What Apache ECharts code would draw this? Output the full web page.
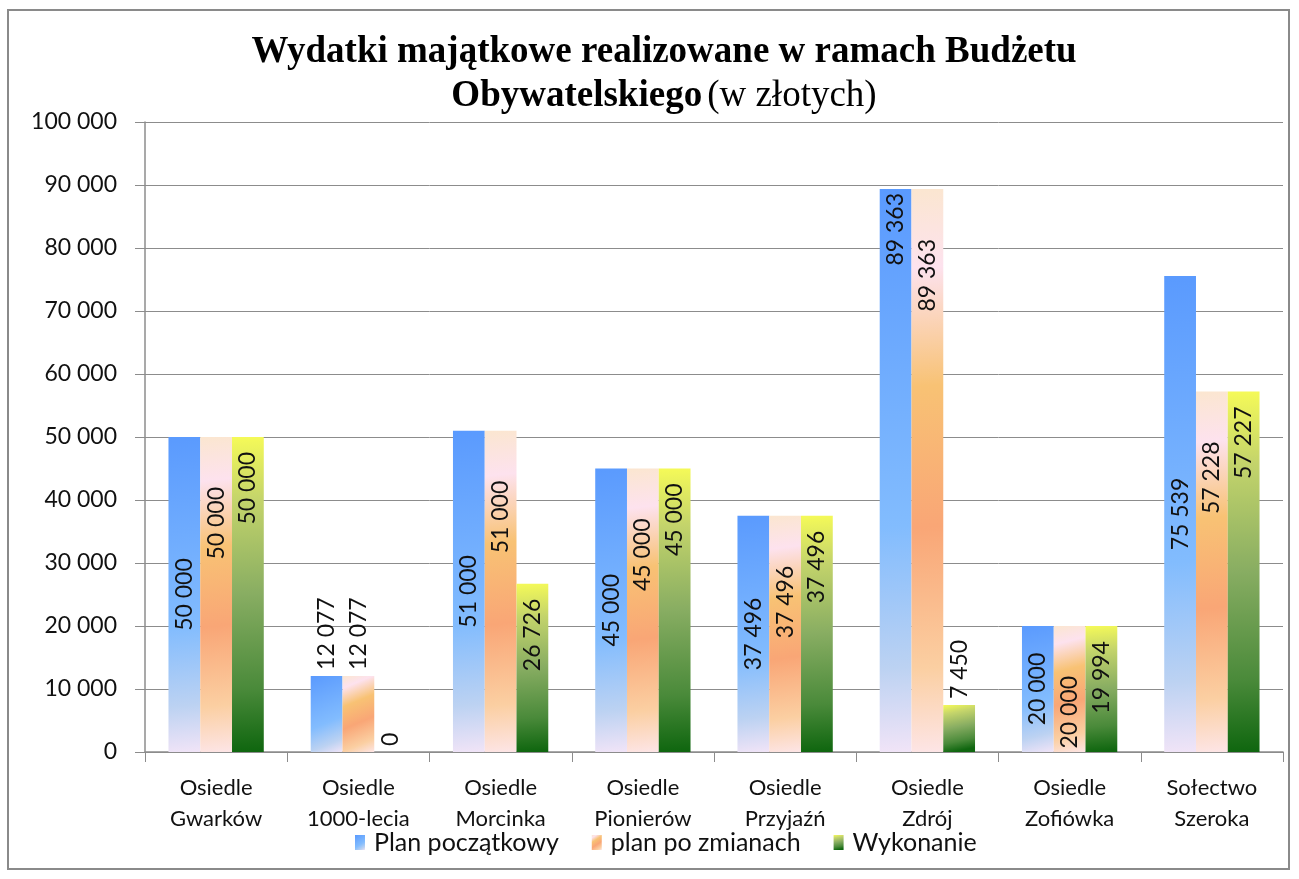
<!DOCTYPE html>
<html>
<head>
<meta charset="utf-8">
<script src="https://cdn.jsdelivr.net/npm/echarts@6/dist/echarts.min.js"></script>
<style>
  html, body { margin: 0; padding: 0; background: #fff; }
  #chart { position: absolute; left: 7px; top: 9px; width: 1283px; height: 861px;
           border: 2px solid #8a8a8a; box-sizing: border-box; }
</style>
</head>
<body>
<div id="chart"></div>
<script>
// dane wykresu
var categories = ['Osiedle\nGwarków', 'Osiedle\n1000-lecia', 'Osiedle\nMorcinka', 'Osiedle\nPionierów',
                  'Osiedle\nPrzyjaźń', 'Osiedle\nZdrój', 'Osiedle\nZofiówka', 'Sołectwo\nSzeroka'];
var planPoczatkowy = [50000, 12077, 51000, 45000, 37496, 89363, 20000, 75539];
var planPoZmianach = [50000, 12077, 51000, 45000, 37496, 89363, 20000, 57228];
var wykonanie      = [50000, 0, 26726, 45000, 37496, 7450, 19994, 57227];
var seriesNames = ['Plan początkowy', 'plan po zmianach', 'Wykonanie'];

var FONT = 'Lato';
var chart = echarts.init(document.getElementById('chart'));

function fmt(v) {
    return String(v).replace(/\B(?=(\d{3})+(?!\d))/g, ' ');
}

var grad = echarts.graphic.LinearGradient;
var blueFill = new grad(0, 0, 1, 1, [
    {offset: 0, color: '#5a9afe'},
    {offset: 0.6, color: '#82bcfe'},
    {offset: 0.85, color: '#bcd2f2'},
    {offset: 1, color: '#f1e4f7'}
]);
var orangeFill = new grad(0, 0, 1, 1, [
    {offset: 0, color: '#fbe6d0'},
    {offset: 0.14, color: '#fde2ee'},
    {offset: 0.35, color: '#f8c274'},
    {offset: 0.6, color: '#f9a676'},
    {offset: 0.85, color: '#fbcfa2'},
    {offset: 1, color: '#fde5e6'}
]);
var greenFill = new grad(0, 0, 0.3, 1, [
    {offset: 0, color: '#f5fa58'},
    {offset: 0.2, color: '#c4d46b'},
    {offset: 0.5, color: '#88ad62'},
    {offset: 0.8, color: '#4a8a3a'},
    {offset: 1, color: '#0f660f'}
]);

// etykiety: małe słupki nad słupkiem, bardzo wysokie przy górnej krawędzi
function labelled(values, pos, dist) {
    return values.map(function (v) {
        if (v < 15000) {
            return {value: v, label: {position: 'top', align: 'left', verticalAlign: 'middle', distance: 6}};
        }
        if (pos === 'inside' && v > 80000) {
            return {value: v, label: {position: 'insideTop', align: 'right', verticalAlign: 'middle', distance: 4}};
        }
        return {value: v, label: {position: pos, distance: dist}};
    });
}

var baseLabel = {
    show: true,
    rotate: 90,
    fontFamily: FONT,
    fontSize: 23,
    color: '#111',
    formatter: function (p) { return fmt(p.value); }
};

var option = {
    animation: false,
    title: {
        left: 650,
        textAlign: 'center',
        top: 14,
        text: '{b|Wydatki majątkowe realizowane w ramach Budżetu}\n{b|Obywatelskiego} {n|(w złotych)}',
        textStyle: {
            rich: {
                b: {fontFamily: 'Liberation Serif', fontWeight: 'bold', fontSize: 37, color: '#000', lineHeight: 44},
                n: {fontFamily: 'Liberation Serif', fontWeight: 'normal', fontSize: 37, color: '#000', lineHeight: 44}
            }
        }
    },
    legend: {
        bottom: 8,
        left: 341,
        icon: 'rect',
        itemWidth: 10,
        itemHeight: 15,
        itemGap: 33,
        textStyle: {fontFamily: FONT, fontSize: 25, color: '#111', padding: [0, 0, 0, 4]},
        data: seriesNames
    },
    grid: {left: 136, right: 5, top: 111, bottom: 116},
    xAxis: {
        type: 'category',
        data: categories,
        axisLine: {lineStyle: {color: '#8c8c8c', width: 1.5}},
        axisTick: {show: true, length: 10, lineStyle: {color: '#8c8c8c'}},
        axisLabel: {fontFamily: FONT, fontSize: 22, color: '#111', lineHeight: 31, margin: 20}
    },
    yAxis: {
        type: 'value',
        min: 0,
        max: 100000,
        interval: 10000,
        axisLine: {show: true, lineStyle: {color: '#8c8c8c', width: 1.5}},
        axisTick: {show: true, length: 10, lineStyle: {color: '#8c8c8c'}},
        splitLine: {lineStyle: {color: '#8c8c8c', width: 1}},
        axisLabel: {fontFamily: FONT, fontSize: 23, color: '#111', margin: 28, formatter: fmt}
    },
    series: [
        {
            name: seriesNames[0],
            type: 'bar',
            barGap: '0%',
            barCategoryGap: '33%',
            itemStyle: {color: blueFill},
            label: Object.assign({}, baseLabel, {position: 'inside'}),
            data: labelled(planPoczatkowy, 'inside', 5)
        },
        {
            name: seriesNames[1],
            type: 'bar',
            itemStyle: {color: orangeFill},
            label: Object.assign({}, baseLabel, {position: 'insideTop', align: 'right', verticalAlign: 'middle'}),
            data: labelled(planPoZmianach, 'insideTop', 50)
        },
        {
            name: seriesNames[2],
            type: 'bar',
            itemStyle: {color: greenFill},
            label: Object.assign({}, baseLabel, {position: 'insideTop', align: 'right', verticalAlign: 'middle'}),
            data: labelled(wykonanie, 'insideTop', 15)
        }
    ]
};

chart.setOption(option);
</script>
</body>
</html>
